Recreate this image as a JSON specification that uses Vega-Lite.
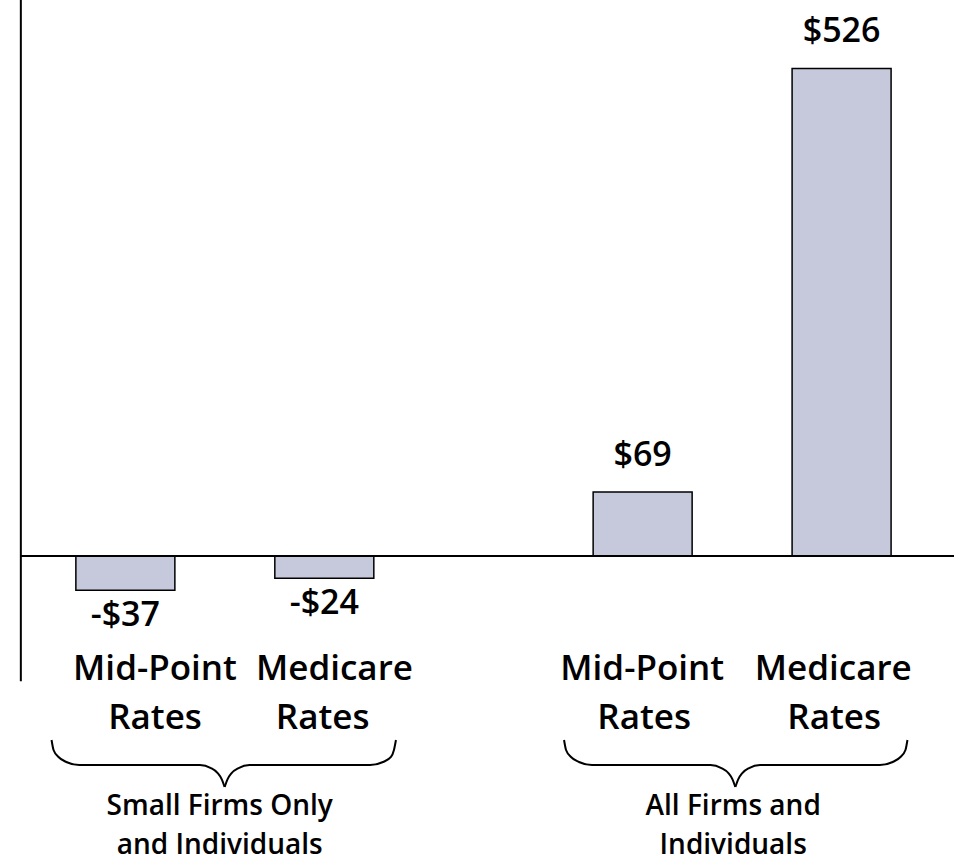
{
  "$schema": "https://vega.github.io/schema/vega-lite/v6.json",
  "width": 959,
  "height": 866,
  "autosize": {"type": "none"},
  "padding": 0,
  "background": "white",
  "config": {"view": {"stroke": null}},
  "datasets": {
    "bars": [
      {"group": "Small Firms Only and Individuals", "rate": "Mid-Point Rates", "slot": 1, "value": -37, "label": "-$37"},
      {"group": "Small Firms Only and Individuals", "rate": "Medicare Rates", "slot": 2, "value": -24, "label": "-$24"},
      {"group": "All Firms and Individuals", "rate": "Mid-Point Rates", "slot": 3.6, "value": 69, "label": "$69"},
      {"group": "All Firms and Individuals", "rate": "Medicare Rates", "slot": 4.6, "value": 526, "label": "$526"}
    ],
    "frame": [
      {"part": "axis", "x1": 0.4746, "x2": 0.4746, "y1": -135, "y2": 599.8},
      {"part": "zero", "x1": 0.4746, "x2": 5.165, "y1": 0, "y2": 0}
    ],
    "braces": [
      {"piece": "L1", "pos": 0.629, "v": -198.5}, {"piece": "L1", "pos": 0.639, "v": -209.3}, {"piece": "L1", "pos": 0.664, "v": -216.8}, {"piece": "L1", "pos": 0.703, "v": -222.2}, {"piece": "L1", "pos": 0.768, "v": -225.5}, {"piece": "L1", "pos": 1.375, "v": -225.5}, {"piece": "L1", "pos": 1.43, "v": -228.7}, {"piece": "L1", "pos": 1.464, "v": -234.1}, {"piece": "L1", "pos": 1.484, "v": -240.6}, {"piece": "L1", "pos": 1.499, "v": -249.2},
      {"piece": "L2", "pos": 1.499, "v": -249.2}, {"piece": "L2", "pos": 1.514, "v": -240.6}, {"piece": "L2", "pos": 1.534, "v": -234.1}, {"piece": "L2", "pos": 1.569, "v": -228.7}, {"piece": "L2", "pos": 1.624, "v": -225.5}, {"piece": "L2", "pos": 2.23, "v": -225.5}, {"piece": "L2", "pos": 2.295, "v": -222.2}, {"piece": "L2", "pos": 2.335, "v": -216.8}, {"piece": "L2", "pos": 2.35, "v": -209.3}, {"piece": "L2", "pos": 2.36, "v": -198.5},
      {"piece": "R1", "pos": 3.205, "v": -198.5}, {"piece": "R1", "pos": 3.215, "v": -209.3}, {"piece": "R1", "pos": 3.24, "v": -216.8}, {"piece": "R1", "pos": 3.28, "v": -222.2}, {"piece": "R1", "pos": 3.345, "v": -225.5}, {"piece": "R1", "pos": 3.941, "v": -225.5}, {"piece": "R1", "pos": 3.996, "v": -228.7}, {"piece": "R1", "pos": 4.031, "v": -234.1}, {"piece": "R1", "pos": 4.051, "v": -240.6}, {"piece": "R1", "pos": 4.066, "v": -249.2},
      {"piece": "R2", "pos": 4.066, "v": -249.2}, {"piece": "R2", "pos": 4.081, "v": -240.6}, {"piece": "R2", "pos": 4.101, "v": -234.1}, {"piece": "R2", "pos": 4.135, "v": -228.7}, {"piece": "R2", "pos": 4.19, "v": -225.5}, {"piece": "R2", "pos": 4.792, "v": -225.5}, {"piece": "R2", "pos": 4.857, "v": -222.2}, {"piece": "R2", "pos": 4.896, "v": -216.8}, {"piece": "R2", "pos": 4.921, "v": -209.3}, {"piece": "R2", "pos": 4.931, "v": -198.5}
    ],
    "catLabels": [
      {"text": "Mid-Point", "pos": 1.149, "v": -121.9},
      {"text": "Rates", "pos": 1.149, "v": -174.8},
      {"text": "Medicare", "pos": 2.051, "v": -121.9},
      {"text": "Rates", "pos": 1.992, "v": -174.8},
      {"text": "Mid-Point", "pos": 3.598, "v": -121.9},
      {"text": "Rates", "pos": 3.608, "v": -174.8},
      {"text": "Medicare", "pos": 4.558, "v": -121.9},
      {"text": "Rates", "pos": 4.563, "v": -174.8}
    ],
    "groupLabels": [
      {"text": ["Small Firms Only", "and Individuals"], "pos": 1.474, "v": -279.4},
      {"text": ["All Firms and", "Individuals"], "pos": 4.055, "v": -279.4}
    ]
  },
  "layer": [
    {
      "data": {"name": "bars"},
      "mark": {"type": "bar", "orient": "vertical", "width": 99, "fill": "#c6c8db", "stroke": "#000000", "strokeWidth": 1.5},
      "encoding": {
        "x": {"field": "slot", "type": "quantitative", "scale": {"domain": [0.395, 5.165], "nice": false, "zero": false}, "axis": null},
        "y": {"field": "value", "type": "quantitative", "scale": {"domain": [-334.4, 599.8], "nice": false, "zero": false}, "axis": null, "stack": null},
        "y2": {"datum": 0}
      }
    },
    {
      "data": {"name": "frame"},
      "mark": {"type": "rule", "stroke": "#000000", "strokeWidth": 2},
      "encoding": {
        "x": {"field": "x1", "type": "quantitative"},
        "x2": {"field": "x2"},
        "y": {"field": "y1", "type": "quantitative"},
        "y2": {"field": "y2"}
      }
    },
    {
      "data": {"name": "braces"},
      "mark": {"type": "line", "interpolate": "monotone", "stroke": "#000000", "strokeWidth": 2},
      "encoding": {
        "x": {"field": "pos", "type": "quantitative"},
        "y": {"field": "v", "type": "quantitative"},
        "detail": {"field": "piece"}
      }
    },
    {
      "data": {"name": "bars"},
      "transform": [{"filter": "datum.value >= 0"}],
      "mark": {"type": "text", "font": "Open Sans", "fontWeight": 600, "fontSize": 34, "baseline": "middle", "align": "center", "dy": -36, "fill": "#000000"},
      "encoding": {
        "x": {"field": "slot", "type": "quantitative"},
        "y": {"field": "value", "type": "quantitative"},
        "text": {"field": "label"}
      }
    },
    {
      "data": {"name": "bars"},
      "transform": [{"filter": "datum.value < 0"}],
      "mark": {"type": "text", "font": "Open Sans", "fontWeight": 600, "fontSize": 34, "baseline": "middle", "align": "center", "dy": 26, "fill": "#000000"},
      "encoding": {
        "x": {"field": "slot", "type": "quantitative"},
        "y": {"field": "value", "type": "quantitative"},
        "text": {"field": "label"}
      }
    },
    {
      "data": {"name": "catLabels"},
      "mark": {"type": "text", "font": "Open Sans", "fontWeight": 600, "fontSize": 35, "baseline": "middle", "align": "center", "fill": "#000000"},
      "encoding": {
        "x": {"field": "pos", "type": "quantitative"},
        "y": {"field": "v", "type": "quantitative"},
        "text": {"field": "text"}
      }
    },
    {
      "data": {"name": "groupLabels"},
      "mark": {"type": "text", "font": "Open Sans", "fontWeight": 600, "fontSize": 28, "lineHeight": 39, "baseline": "alphabetic", "align": "center", "fill": "#000000"},
      "encoding": {
        "x": {"field": "pos", "type": "quantitative"},
        "y": {"field": "v", "type": "quantitative"},
        "text": {"field": "text"}
      }
    }
  ]
}
